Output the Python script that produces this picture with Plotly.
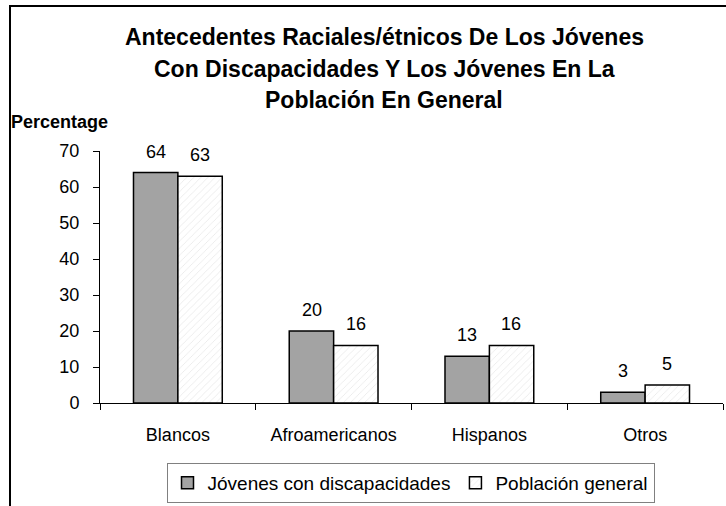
import plotly.graph_objects as go

categories = ["Blancos", "Afroamericanos", "Hispanos", "Otros"]
jovenes_disc = [64, 20, 13, 3]
poblacion_gen = [63, 16, 16, 5]
series_names = ["Jóvenes con discapacidades", "Población general"]
y_ticks = [0, 10, 20, 30, 40, 50, 60, 70]
title_lines = [
    "Antecedentes Raciales/étnicos De Los Jóvenes",
    "Con Discapacidades Y Los Jóvenes En La",
    "Población En General",
]
y_label = "Percentage"

# plot area in pixels
L, R, T, B = 100, 723, 151, 403
W, H = R - L, B - T
def px(x):
    return (x - L) / W
def py(y):
    return (B - y) / H

FONT = "Liberation Sans, Arial, sans-serif"

fig = go.Figure()
fig.add_trace(go.Bar(
    x=categories, y=jovenes_disc, name=series_names[0],
    marker=dict(color="#a3a3a3", line=dict(color="black", width=1.5)),
))
fig.add_trace(go.Bar(
    x=categories, y=poblacion_gen, name=series_names[1],
    marker=dict(color="white", line=dict(color="black", width=1.5),
                pattern=dict(shape="/", fgcolor="#d0d0d0", bgcolor="white",
                             size=5, solidity=0.15)),
))

annotations = []
for vals, shift in ((jovenes_disc, -22), (poblacion_gen, 22)):
    for c, v in zip(categories, vals):
        annotations.append(dict(x=c, y=v, xref="x", yref="y", text=str(v),
                                showarrow=False, xshift=shift, yshift=21,
                                yanchor="middle",
                                font=dict(family=FONT, size=18, color="black")))

for line, yc in zip(title_lines, [37, 69, 100]):
    annotations.append(dict(x=px(384), y=py(yc), xref="paper", yref="paper",
                            text="<b>%s</b>" % line, showarrow=False,
                            xanchor="center", yanchor="middle",
                            font=dict(family=FONT, size=23, color="black")))
annotations.append(dict(x=px(9), y=py(122), xref="paper", yref="paper",
                        text="<b>%s</b>" % y_label, showarrow=False,
                        xanchor="left", yanchor="middle",
                        font=dict(family=FONT, size=18, color="black")))

fig.update_layout(
    width=726, height=506,
    margin=dict(l=L, r=726 - R, t=T, b=506 - B, autoexpand=False),
    paper_bgcolor="white", plot_bgcolor="white",
    barmode="group", bargap=0.43, bargroupgap=0,
    font=dict(family=FONT, size=18, color="black"),
    showlegend=True,
    legend=dict(orientation="h", x=px(410.5), y=py(503),
                xanchor="center", yanchor="bottom",
                bordercolor="#808080", borderwidth=1, bgcolor="white",
                font=dict(family=FONT, size=19, color="black"),
                itemwidth=30, tracegroupgap=0),
    annotations=annotations,
    shapes=[dict(type="rect", xref="paper", yref="paper",
                 x0=px(10), y0=py(560), x1=px(780), y1=py(6),
                 line=dict(color="black", width=2), layer="above")],
)
fig.update_xaxes(showline=True, linecolor="black", linewidth=1,
                 ticks="outside", tickson="boundaries", ticklen=6,
                 tickcolor="black", showgrid=False,
                 ticklabelstandoff=15,
                 tickfont=dict(family=FONT, size=18, color="black"))
fig.update_yaxes(range=[0, 70], tickvals=y_ticks, showline=True,
                 linecolor="black", linewidth=1, ticks="outside",
                 ticklen=6, tickcolor="black", showgrid=False,
                 zeroline=False, ticklabelstandoff=10,
                 tickfont=dict(family=FONT, size=18, color="black"))

fig.write_html("out.html", config={"displayModeBar": False},
               post_script="document.body.style.margin='0';document.body.style.overflow='hidden';")
